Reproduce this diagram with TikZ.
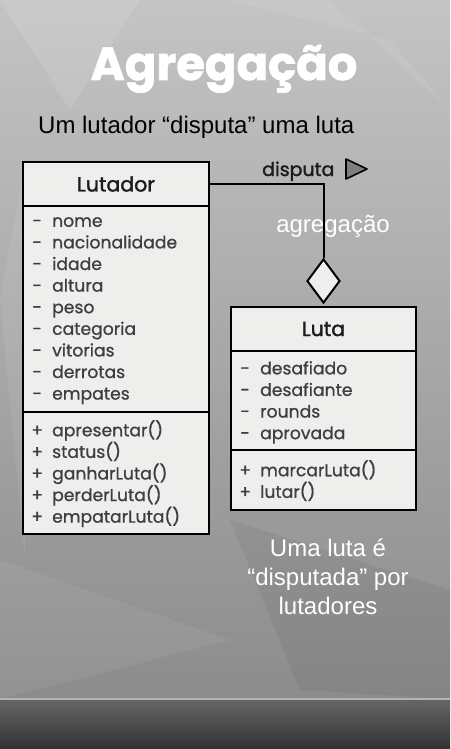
\documentclass[tikz,border=0pt]{standalone}
\usepackage{fontspec}
\setmainfont{Liberation Sans}
\newfontfamily\umlfont[FakeBold=0.8]{Poppins}
\newfontfamily\cabfont[FakeBold=1.6]{Poppins}
\newfontfamily\titulofont[UprightFont=* Bold, FakeBold=1.4]{Poppins}
\usetikzlibrary{positioning,shapes.geometric}

\definecolor{fundoA}{HTML}{C4C4C4}
\definecolor{fundoB}{HTML}{8C8C8C}
\definecolor{fundoC}{HTML}{666666}
\definecolor{fundoD}{HTML}{323232}
\definecolor{faixa}{HTML}{B2B2B2}
\definecolor{caixa}{HTML}{EEEFED}
\definecolor{cabtexto}{HTML}{1C1C1C}
\definecolor{membrotexto}{HTML}{3E3E3E}
\definecolor{seta}{HTML}{7E7E7E}

\newcommand{\menos}[1]{\makebox[30pt][c]{-}#1}
\newcommand{\mais}[1]{\makebox[30pt][c]{+}#1}

\tikzset{
  classe/.style={draw=black, line width=2.2pt, fill=caixa, minimum width=186pt, outer sep=0pt, inner sep=0pt},
  cabeca/.style={classe, minimum height=44pt, text=cabtexto, font=\cabfont\fontsize{20.5}{22}\selectfont},
  membros/.style={anchor=north west, inner sep=0pt, align=left, text=membrotexto, font=\umlfont\fontsize{17.2}{21.6}\selectfont},
  ligacao/.style={line width=2pt},
  losango/.style={diamond, draw=black, line width=2pt, fill=caixa, minimum width=33pt, minimum height=44pt, inner sep=0pt},
  aviso/.style={text=white, align=center, font=\fontsize{24}{29}\selectfont}
}

\begin{document}
\begin{tikzpicture}[x=1pt, y=-1pt]
		\useasboundingbox (0,0) rectangle (450,749);
		\shade [top color=fundoA, bottom color=fundoB] (0,0) rectangle (450,699);
		\fill [white, opacity=0.10] (0,0) -- (140,0) -- (70,110) -- cycle;
		\fill [white, opacity=0.08] (230,0) -- (330,0) -- (450,110) -- (390,40) -- cycle;
		\fill [white, opacity=0.07] (0,300) -- (25,160) -- (25,560) -- cycle;
		\fill [black, opacity=0.05] (230,520) -- (450,590) -- (450,699) -- (300,690) -- cycle;
		\fill [white, opacity=0.06] (0,560) -- (230,640) -- (0,699) -- cycle;
		\shade [top color=fundoC, bottom color=fundoD] (0,699) rectangle (450,749);
		\draw [faixa, line width=2pt] (0,699) -- (450,699);

		\node [text=white, anchor=base, font=\titulofont\fontsize{46.5}{46.5}\selectfont] (titulo) at (224,80) {Agregação};
		\node [anchor=base west, inner sep=0pt, font=\fontsize{24}{24}\selectfont] (frase) at (38,133) {Um lutador “disputa” uma luta};

		\node [cabeca, anchor=north west] (lutador) at (23,162) {Lutador};
		\node [classe, minimum height=206pt, below=0pt of lutador] (lutador-atr) {};
		\node [classe, minimum height=122pt, below=0pt of lutador-atr] (lutador-met) {};
		\node [membros] (lutador-lista) at (22,217) {\menos{nome}\\ \menos{nacionalidade}\\ \menos{idade}\\ \menos{altura}\\ \menos{peso}\\ \menos{categoria}\\ \menos{vitorias}\\ \menos{derrotas}\\ \menos{empates}};
		\node [membros] (lutador-ops) at (22,420) {\mais{apresentar()}\\ \mais{status()}\\ \mais{ganharLuta()}\\ \mais{perderLuta()}\\ \mais{empatarLuta()}};

		\node [cabeca, minimum width=185pt, anchor=north west] (luta) at (231,307) {Luta};
		\node [classe, minimum width=185pt, minimum height=99pt, below=0pt of luta] (luta-atr) {};
		\node [classe, minimum width=185pt, minimum height=60pt, below=0pt of luta-atr] (luta-met) {};
		\node [membros] (luta-lista) at (230,361) {\menos{desafiado}\\ \menos{desafiante}\\ \menos{rounds}\\ \menos{aprovada}};
		\node [membros] (luta-ops) at (230,460) {\mais{marcarLuta()}\\ \mais{lutar()}};

		\node [losango, above=3pt of luta] (agreg) {};
		\draw [ligacao] (lutador.east) -| (agreg.north);

		\node [anchor=base west, inner sep=0pt, text=cabtexto, font=\cabfont\fontsize{19}{19}\selectfont] (rotulo) at (262,176) {disputa};
		\draw [line width=1.6pt, fill=seta, line join=round] (346,159) -- (367,169) -- (346,179) -- cycle;

		\node [aviso, anchor=base] (nota) at (333,232) {agregação};
		\node [aviso, anchor=north] (conclusao) at (328,535) {Uma luta é\\ “disputada” por\\ lutadores};
\end{tikzpicture}
\end{document}
